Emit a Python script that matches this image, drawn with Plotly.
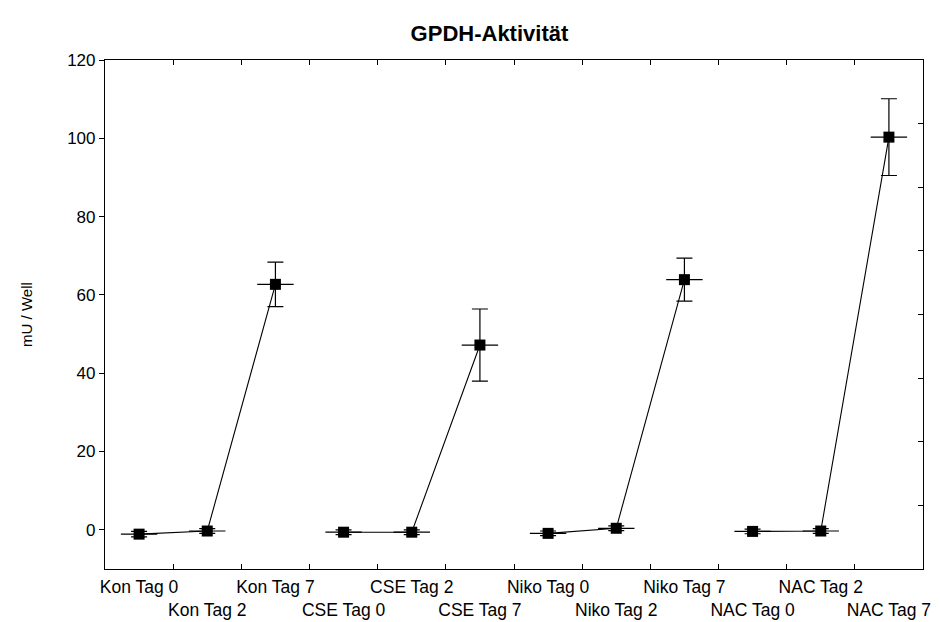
import plotly.graph_objects as go

categories = ["Kon Tag 0", "Kon Tag 2", "Kon Tag 7",
              "CSE Tag 0", "CSE Tag 2", "CSE Tag 7",
              "Niko Tag 0", "Niko Tag 2", "Niko Tag 7",
              "NAC Tag 0", "NAC Tag 2", "NAC Tag 7"]
means = [-1.1, -0.3, 62.7,
         -0.6, -0.6, 47.2,
         -0.9, 0.4, 63.9,
         -0.4, -0.3, 100.3]
errors = [0.7, 0.6, 5.7,
          0.6, 0.6, 9.2,
          0.6, 0.6, 5.5,
          0.6, 0.6, 9.8]
groups = [[0, 1, 2], [3, 4, 5], [6, 7, 8], [9, 10, 11]]
tick_labels = [c if i % 2 == 0 else "<br>" + c for i, c in enumerate(categories)]

FONT = "Liberation Sans, Arial, sans-serif"
fig = go.Figure()

for g in groups:
    xs = [categories[i] for i in g]
    ys = [means[i] for i in g]
    es = [errors[i] for i in g]
    fig.add_trace(go.Scatter(
        x=xs, y=ys, mode="lines+markers",
        line=dict(color="black", width=1.1),
        marker=dict(symbol="square", size=11, color="black"),
        error_y=dict(type="data", array=es, visible=True,
                     color="black", thickness=1.2, width=8),
        showlegend=False, hoverinfo="skip"))
    fig.add_trace(go.Scatter(
        x=xs, y=ys, mode="markers",
        marker=dict(symbol="line-ew", size=26,
                    line=dict(color="black", width=1.2)),
        showlegend=False, hoverinfo="skip"))

fig.add_trace(go.Scatter(x=[categories[0]], y=[0], yaxis="y2", mode="markers",
                         marker=dict(opacity=0), showlegend=False, hoverinfo="skip"))

fig.update_layout(
    width=940, height=622,
    margin=dict(l=105, r=17, t=60, b=53),
    paper_bgcolor="white", plot_bgcolor="white",
    font=dict(family=FONT, color="black"),
    title=dict(text="<b>GPDH-Aktivität</b>", font=dict(size=22, family=FONT),
               x=0.47, xref="paper", xanchor="center",
               y=1 - 33 / 622, yref="container", yanchor="middle"),
    xaxis=dict(type="category", categoryorder="array", categoryarray=categories,
               tickmode="array", tickvals=categories, ticktext=tick_labels,
               range=[-0.5, 11.5], tickson="boundaries", tickangle=0,
               automargin=False, ticklabelstandoff=2,
               ticks="inside", ticklen=5, tickcolor="black", tickwidth=1,
               showline=True, linecolor="black", linewidth=1.2, mirror="ticks",
               showgrid=False, zeroline=False,
               tickfont=dict(size=17.5, family=FONT)),
    yaxis=dict(range=[-10, 120], tickmode="array", tickvals=[0, 20, 40, 60, 80, 100, 120],
               automargin=False,
               ticks="outside", ticklen=5, tickcolor="black", tickwidth=1,
               showline=True, linecolor="black", linewidth=1.2,
               showgrid=False, zeroline=False,
               tickfont=dict(size=17, family=FONT),
               title=dict(text="mU / Well", font=dict(size=15, family=FONT), standoff=30)),
    yaxis2=dict(overlaying="y", side="right", range=[0, 8], dtick=1,
                automargin=False,
                ticks="inside", ticklen=5, tickcolor="black", tickwidth=1,
                showticklabels=False, showline=True, linecolor="black", linewidth=1.2,
                showgrid=False, zeroline=False),
)

fig.write_html("out.html", config={"displayModeBar": False},
               post_script="document.body.style.margin='0';document.body.style.overflow='hidden';")
